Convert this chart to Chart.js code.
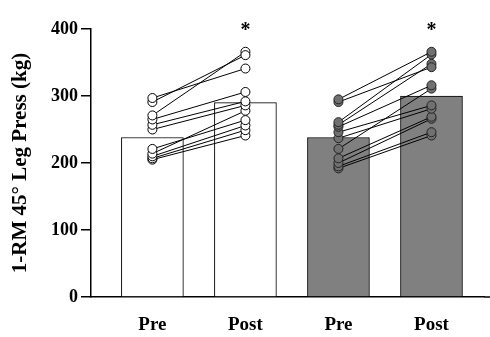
<!DOCTYPE html>
<html>
<head>
<meta charset="utf-8">
<script src="https://cdn.jsdelivr.net/npm/chart.js@4/dist/chart.umd.min.js"></script>
<style>
  html, body { margin: 0; padding: 0; background: #fff; }
  #wrap { width: 490px; height: 337px; }
</style>
</head>
<body>
<div id="wrap"><canvas id="legPress"></canvas></div>
<script>
const tickLabels = ['Pre', 'Post', 'Pre', 'Post'];
const barMeans = [238, 290, 238, 300];
const barColors = ['#ffffff', '#ffffff', '#808080', '#808080'];

// individual subjects, pre -> post
const g1Pre  = [297, 291, 271, 265, 257, 250, 221, 214, 210, 207, 205];
const g1Post = [341, 361, 366, 306, 292, 286, 264, 278, 256, 249, 241];
const g2Pre  = [295, 291, 261, 257, 254, 246, 237, 221, 207, 200, 195, 192];
const g2Post = [366, 343, 362, 348, 316, 286, 281, 311, 269, 266, 246, 241];

const starAt = [2, 4];

const serif = '"Liberation Serif", "Times New Roman", serif';

const datasets = [];
datasets.push({
    type: 'bar',
    data: barMeans.map((v, i) => ({ x: i + 1, y: v })),
    backgroundColor: barColors,
    borderColor: '#000',
    borderWidth: 1,
    barThickness: 62,
    order: 10
});

function addSubjects(pre, post, xPre, fill) {
    for (let i = 0; i < pre.length; i++) {
        datasets.push({
            type: 'line',
            data: [{ x: xPre, y: pre[i] }, { x: xPre + 1, y: post[i] }],
            borderColor: '#000',
            borderWidth: 1,
            pointRadius: 4.5,
            pointBackgroundColor: fill,
            pointBorderColor: fill === '#ffffff' ? '#000' : '#222',
            pointBorderWidth: 1,
            order: 1
        });
    }
}
addSubjects(g1Pre, g1Post, 1, '#ffffff');
addSubjects(g2Pre, g2Post, 3, '#707070');

// asterisks over Post bars + axis line running to the right edge
const stars = {
    id: 'stars',
    afterDatasetsDraw(chart) {
        const ctx = chart.ctx;
        const xs = chart.scales.x;
        const area = chart.chartArea;
        ctx.save();
        ctx.strokeStyle = '#000';
        ctx.lineWidth = 1.5;
        ctx.beginPath();
        ctx.moveTo(area.right, area.bottom);
        ctx.lineTo(chart.width, area.bottom);
        ctx.stroke();
        ctx.fillStyle = '#000';
        ctx.font = 'bold 20px ' + serif;
        ctx.textAlign = 'center';
        ctx.textBaseline = 'middle';
        starAt.forEach(v => ctx.fillText('*', xs.getPixelForValue(v), 31));
        ctx.restore();
    }
};

new Chart(document.getElementById('legPress'), {
    type: 'bar',
    data: { datasets: datasets },
    plugins: [stars],
    options: {
        responsive: true,
        maintainAspectRatio: false,
        animation: false,
        layout: { padding: { top: 29, right: 0, left: 0, bottom: 0 } },
        plugins: { legend: { display: false }, tooltip: { enabled: false } },
        scales: {
            x: {
                type: 'linear',
                offset: false,
                min: 0.34,
                max: 4.57,
                grid: { display: false },
                border: { color: '#000', width: 1.5 },
                afterBuildTicks: s => { s.ticks = [1, 2, 3, 4].map(v => ({ value: v })); },
                afterFit: s => { s.height = 40; },
                ticks: {
                    color: '#000',
                    padding: 9,
                    font: { family: serif, size: 19, weight: 'bold' },
                    callback: v => tickLabels[v - 1]
                }
            },
            y: {
                min: 0,
                max: 400,
                afterFit: s => { s.width = 91; },
                grid: { drawOnChartArea: false, drawTicks: true, tickLength: 10, color: '#000', lineWidth: 1.5 },
                border: { color: '#000', width: 1.5 },
                ticks: {
                    stepSize: 100,
                    color: '#000',
                    padding: 3,
                    font: { family: serif, size: 18, weight: 'bold' }
                },
                title: {
                    display: true,
                    text: '1-RM 45° Leg Press (kg)',
                    color: '#000',
                    padding: { top: 8, bottom: 0 },
                    font: { family: serif, size: 21, weight: 'bold' }
                }
            }
        }
    }
});
</script>
</body>
</html>
